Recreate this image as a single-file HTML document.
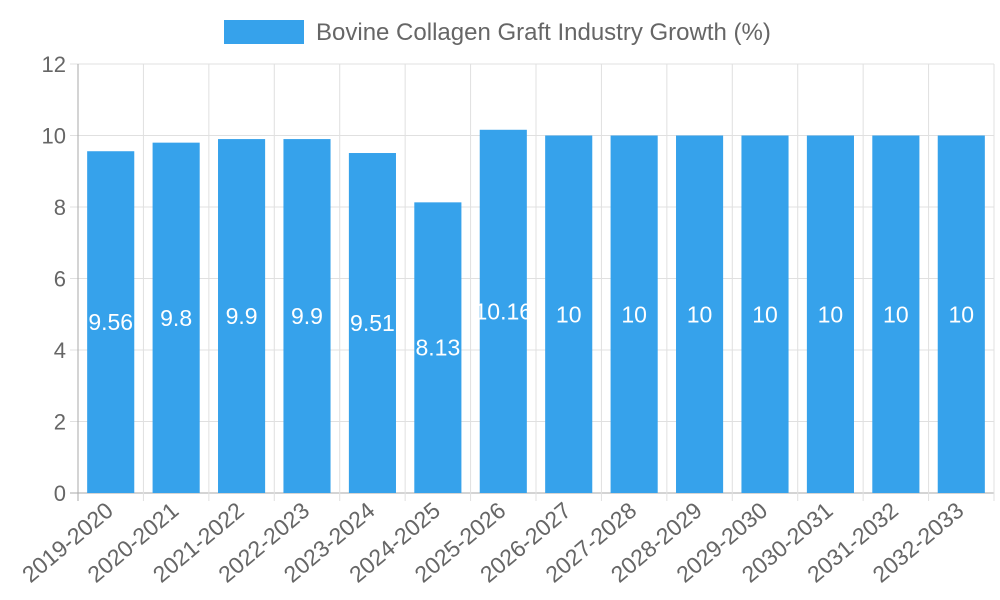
<!DOCTYPE html>
<html><head><meta charset="utf-8"><style>
body{margin:0;background:#fff;}
svg{display:block;font-family:"Liberation Sans",Arial,sans-serif;}
</style></head><body>
<svg id="chart" width="1000" height="600" viewBox="0 0 1000 600">
<g id="legend">
<rect x="224" y="20" width="80" height="24" fill="#36a2eb"/>
<text x="316" y="40" font-size="24" fill="#666">Bovine Collagen Graft Industry Growth (%)</text>
</g>
<g id="grid"></g><g id="bars"></g><g id="axes"></g>
</svg>
<script>
const categories=["2019-2020","2020-2021","2021-2022","2022-2023","2023-2024","2024-2025","2025-2026","2026-2027","2027-2028","2028-2029","2029-2030","2030-2031","2031-2032","2032-2033"];
const values=[9.56,9.8,9.9,9.9,9.51,8.13,10.16,10,10,10,10,10,10,10];
const yTicks=[0,2,4,6,8,10,12];
const NS="http://www.w3.org/2000/svg";
const L=78,R=994,T=64,B=493,yMax=12;
const bw=(R-L)/categories.length;
const y=v=>B-(v/yMax)*(B-T);
const x=i=>L+bw*i;
function mk(tag,attrs,parent,text){const e=document.createElementNS(NS,tag);for(const k in attrs)e.setAttribute(k,attrs[k]);if(text!==undefined)e.textContent=text;parent.appendChild(e);return e;}
const grid=document.getElementById('grid'),bars=document.getElementById('bars'),axes=document.getElementById('axes');
yTicks.forEach(t=>{
 const gl=mk('line',{x1:L-8,x2:R,y1:y(t),y2:y(t),stroke:t===0?'#aaa':'#e0e0e0','stroke-width':1},grid);
 
 
 const tl=mk('text',{x:L-12,y:y(t)+8,'font-size':22,fill:'#666','text-anchor':'end'},axes,String(t));
 
 
});
for(let i=0;i<=categories.length;i++){
 const vl=mk('line',{x1:x(i),x2:x(i),y1:T,y2:B+8,stroke:i===0?'#aaa':'#e0e0e0','stroke-width':1},grid);
 
 
}
categories.forEach((c,i)=>{
 const v=values[i],bx=x(i)+bw*0.14,w=bw*0.72;
 const r=mk('rect',{x:bx,y:y(v),width:w,height:B-y(v),fill:'#36a2eb'},bars);
 
 
 const cx=x(i)+bw/2;
 const lt=mk('text',{x:cx,y:(y(v)+B)/2+8,'font-size':23,fill:'#fff','text-anchor':'middle'},bars,String(v));
 
 
 const xl=mk('text',{x:cx+4,y:B+20,'font-size':23,fill:'#666','text-anchor':'end',transform:`rotate(-40 ${cx+4} ${B+20})`},axes,c);
 
 
});
</script>
</body></html>
